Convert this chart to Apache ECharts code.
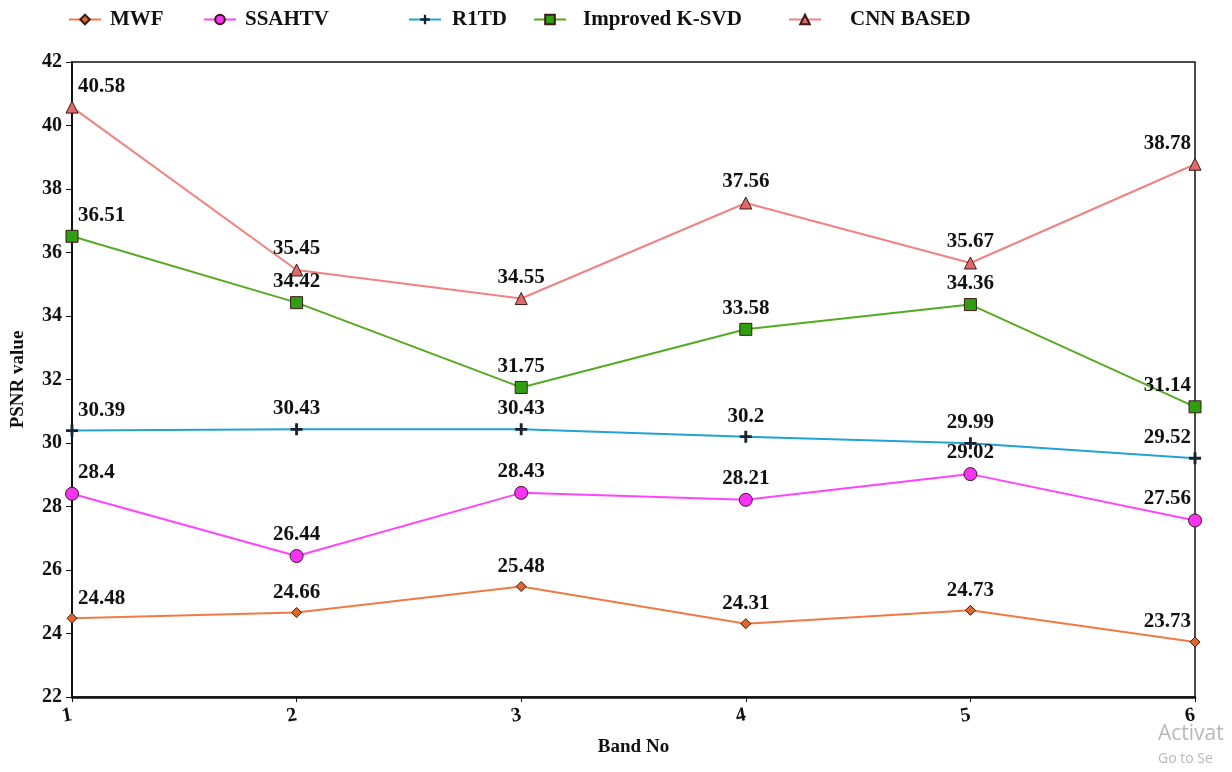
<!DOCTYPE html>
<html><head><meta charset="utf-8">
<script src="https://cdn.jsdelivr.net/npm/echarts@6/dist/echarts.min.js"></script>
<style>html,body{margin:0;padding:0;background:#fff}#c{width:1232px;height:772px}</style>
</head><body><div id="c"></div>
<script>
const categories = ['1','2','3','4','5','6'];
const yTicks = [22,24,26,28,30,32,34,36,38,40,42];
const seriesNames = ['MWF','SSAHTV','R1TD','Improved K-SVD','CNN BASED'];
const mwf = [24.48, 24.66, 25.48, 24.31, 24.73, 23.73];
const ssahtv = [28.4, 26.44, 28.43, 28.21, 29.02, 27.56];
const r1td = [30.39, 30.43, 30.43, 30.2, 29.99, 29.52];
const ksvd = [36.51, 34.42, 31.75, 33.58, 34.36, 31.14];
const cnn = [40.58, 35.45, 34.55, 37.56, 35.67, 38.78];

const FONT = '"Liberation Serif", "DejaVu Serif", serif';
const plusPath = 'path://M3.8,0H6.2V3.8H10V6.2H6.2V10H3.8V6.2H0V3.8H3.8Z';

function labelled(vals) {
  const n = vals.length;
  return vals.map((v, i) => {
    const lab = { show: true, position: 'top', distance: 4, fontFamily: FONT, fontWeight: 'bold', fontSize: 21, color: '#111' };
    if (i === 0) { lab.align = 'left'; lab.offset = [6, 0]; }
    else if (i === n - 1) { lab.align = 'right'; lab.offset = [-4, 0]; }
    return { value: v, label: lab };
  });
}

const styles = [
  { data: mwf, line: '#f07a45', fill: '#e0662a', symbol: 'diamond', size: 10 },
  { data: ssahtv, line: '#ff44ff', fill: '#f733f5', symbol: 'circle', size: 13 },
  { data: r1td, line: '#23a2d4', fill: '#152535', symbol: plusPath, size: 12, noBorder: true },
  { data: ksvd, line: '#55aa22', fill: '#2f9e10', symbol: 'rect', size: 12 },
  { data: cnn, line: '#f08282', fill: '#e06a6a', symbol: 'triangle', size: 12 }
];

const legendLeft = [68, 203, 408, 533, 788];
const legendTextPad = [4, 4, 6, 12, 24];

const chart = echarts.init(document.getElementById('c'));
chart.setOption({
  animation: false,
  backgroundColor: '#fff',
  legend: seriesNames.map((nm, k) => ({
    top: 9, left: legendLeft[k], padding: 0, itemWidth: 32, itemHeight: 12,
    textStyle: { fontFamily: FONT, fontWeight: 'bold', fontSize: 21, color: '#111', padding: [0, 0, 0, legendTextPad[k]] },
    data: [nm]
  })),
  grid: { left: 72, right: 37, top: 62, bottom: 75, outerBoundsMode: 'none', containLabel: false, show: true, borderColor: '#111', borderWidth: 1.5, backgroundColor: 'transparent' },
  xAxis: {
    type: 'category', data: categories, boundaryGap: false,
    name: 'Band No', nameLocation: 'middle', nameGap: 41,
    nameTextStyle: { fontFamily: FONT, fontWeight: 'bold', fontSize: 19, color: '#111' },
    axisLine: { lineStyle: { color: '#111', width: 2.5 } },
    axisTick: { show: true, length: 5, alignWithLabel: true, lineStyle: { color: '#111' } },
    axisLabel: { fontFamily: FONT, fontWeight: 'bold', fontSize: 20, color: '#111', margin: 18, rotate: 10 },
    splitLine: { show: false }
  },
  yAxis: {
    type: 'value', min: yTicks[0], max: yTicks[yTicks.length - 1], interval: 2,
    name: 'PSNR value', nameLocation: 'middle', nameGap: 44, nameRotate: 90,
    nameTextStyle: { fontFamily: FONT, fontWeight: 'bold', fontSize: 19, color: '#111' },
    axisLine: { show: true, lineStyle: { color: '#111', width: 2 } },
    axisTick: { show: true, length: 6, lineStyle: { color: '#111' } },
    axisLabel: { fontFamily: FONT, fontWeight: 'bold', fontSize: 20, color: '#111', margin: 10 },
    splitLine: { show: false }
  },
  series: styles.map((s, k) => ({
    name: seriesNames[k], type: 'line', data: labelled(s.data),
    symbol: s.symbol, symbolSize: s.size, showAllSymbol: true,
    lineStyle: { color: s.line, width: 2 },
    itemStyle: { color: s.fill, borderColor: s.noBorder ? s.fill : '#3a1a1a', borderWidth: s.noBorder ? 0 : 1 },
    emphasis: { disabled: true }
  })),
  graphic: [
    { type: 'text', left: 1158, top: 724, style: { text: 'Activat', fontFamily: '"Open Sans", "DejaVu Sans", sans-serif', fontSize: 21, fill: '#b8b8b8' } },
    { type: 'text', left: 1158, top: 752, style: { text: 'Go to Se', fontFamily: '"Open Sans", "DejaVu Sans", sans-serif', fontSize: 14, fill: '#b8b8b8' } }
  ]
});
</script></body></html>
